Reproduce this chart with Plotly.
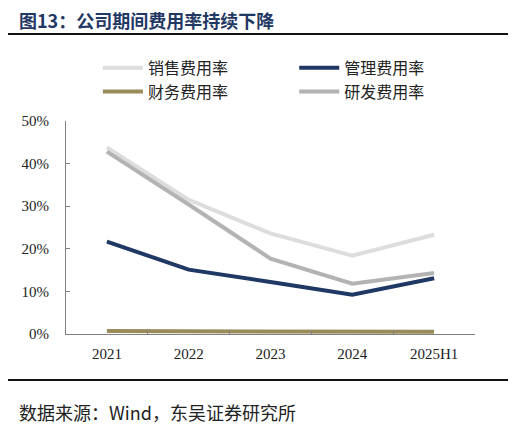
import plotly.graph_objects as go

years = ["2021", "2022", "2023", "2024", "2025H1"]
xs_rate = [43.8, 31.5, 23.6, 18.4, 23.3]   # 销售费用率
gl_rate = [21.7, 15.1, 12.2, 9.2, 13.1]    # 管理费用率
cw_rate = [0.7, 0.7, 0.5, 0.5, 0.5]        # 财务费用率
yf_rate = [42.8, 30.4, 17.7, 11.8, 14.3]   # 研发费用率

serif = "Liberation Serif, Times New Roman, Noto Sans CJK SC, serif"
cjk = "Noto Sans CJK SC, sans-serif"

fig = go.Figure()
fig.add_trace(go.Scatter(x=years, y=xs_rate, name="销售费用率", mode="lines", legend="legend",
                         legendgroup="a", line=dict(color="#dddddd", width=4)))
fig.add_trace(go.Scatter(x=years, y=gl_rate, name="管理费用率", mode="lines", legend="legend2",
                         legendgroup="b", line=dict(color="#1f3864", width=4)))
fig.add_trace(go.Scatter(x=years, y=cw_rate, name="财务费用率", mode="lines", legend="legend",
                         legendgroup="c", line=dict(color="#9a8b5a", width=4)))
fig.add_trace(go.Scatter(x=years, y=yf_rate, name="研发费用率", mode="lines", legend="legend2",
                         legendgroup="d", line=dict(color="#b3b3b3", width=4)))

leg = dict(orientation="v", y=1.329, xanchor="left", yanchor="top",
           font=dict(family=cjk, size=16, color="#222222"),
           tracegroupgap=0, itemwidth=40, bgcolor="rgba(0,0,0,0)")

# the page body adds an 8px offset, so the figure is drawn 8px smaller
fig.update_layout(
    width=508, height=420,
    margin=dict(l=58, r=41, t=113, b=94, autoexpand=False),
    paper_bgcolor="white", plot_bgcolor="white",
    showlegend=True,
    legend=dict(leg, x=0.078),
    legend2=dict(leg, x=0.558),
)

fig.update_xaxes(type="category", range=[-0.5, 4.5], showline=True, linecolor="#808080",
                 linewidth=1, ticks="inside", tickson="boundaries", ticklen=4,
                 tickcolor="#808080", showgrid=False, zeroline=False,
                 tickfont=dict(family=serif, size=15, color="#222222"),
                 ticklabelstandoff=6)
fig.update_yaxes(range=[0, 50], dtick=10, ticksuffix="%", showline=True, linecolor="#808080",
                 linewidth=1, ticks="inside", ticklen=4, tickcolor="#808080",
                 showgrid=False, zeroline=False,
                 tickfont=dict(family=serif, size=15, color="#222222"),
                 ticklabelstandoff=13)

# title, header and footer rules
fig.add_annotation(text="<b>图13：公司期间费用率持续下降</b>", xref="paper", yref="paper",
                   x=-0.119, y=1.474, xanchor="left", yanchor="middle", showarrow=False,
                   font=dict(family=cjk, size=18, color="#1f3864"))
fig.add_shape(type="line", xref="paper", yref="paper", x0=-0.149, x1=1.086,
              y0=1.408, y1=1.408, line=dict(color="#111111", width=2))
fig.add_shape(type="line", xref="paper", yref="paper", x0=-0.149, x1=1.086,
              y0=-0.216, y1=-0.216, line=dict(color="#111111", width=2))

fig.add_annotation(text="数据来源：Wind，东吴证券研究所", xref="paper", yref="paper",
                   x=-0.12, y=-0.365, xanchor="left", yanchor="middle", showarrow=False,
                   font=dict(family=cjk, size=18, color="#222222"))

fig.write_html("out.html")
